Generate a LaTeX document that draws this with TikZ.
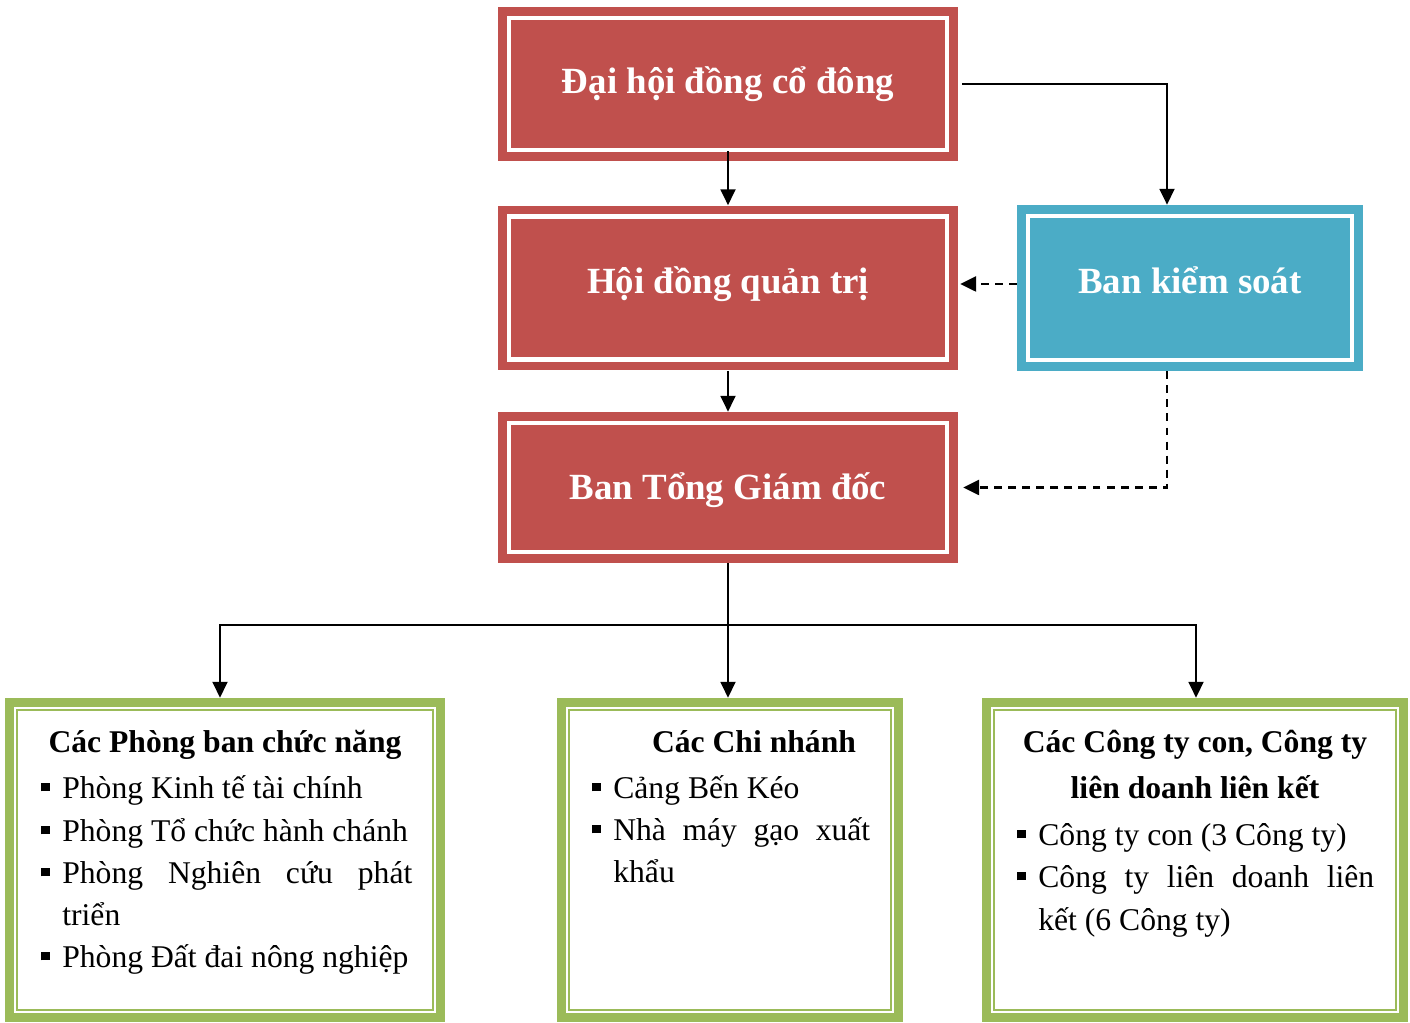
\documentclass[tikz,border=0pt]{standalone}
\usepackage{fontspec}
\setmainfont{Liberation Serif}
\usetikzlibrary{arrows.meta,positioning}

\definecolor{boxred}{HTML}{C0504D}
\definecolor{boxblue}{HTML}{4BACC6}
\definecolor{boxgreen}{HTML}{9BBB59}

% small square bullet, hung 21px before the text
\newcommand{\sqbul}{\makebox[11.95pt][l]{\raisebox{3.8pt}{\rule{4.8pt}{4.8pt}}}}

\begin{document}
\begin{tikzpicture}[x=0.02cm,y=-0.02cm,% one unit = one pixel of the reference
        stripe/.style={path picture={\draw[white,line width=2.4pt]
            ([shift={(0.22cm,0.22cm)}]path picture bounding box.south west) rectangle
            ([shift={(-0.22cm,-0.22cm)}]path picture bounding box.north east);}},
        redbox/.style={fill=boxred,stripe,minimum width=9.2cm,text=white,
            font=\fontsize{21}{25}\selectfont\bfseries,inner sep=0pt,
            text height=15pt,text depth=5pt},
        bluebox/.style={redbox,fill=boxblue,minimum width=6.92cm},
        greenbox/.style={fill=boxgreen,minimum height=6.48cm,inner sep=0pt,
            path picture={\fill[white]
            ([shift={(0.18cm,0.18cm)}]path picture bounding box.south west) rectangle
            ([shift={(-0.18cm,-0.18cm)}]path picture bounding box.north east);
            \draw[boxgreen,line width=1.2pt]
            ([shift={(0.24cm,0.24cm)}]path picture bounding box.south west) rectangle
            ([shift={(-0.24cm,-0.24cm)}]path picture bounding box.north east);}},
        head/.style={anchor=base,inner sep=0pt,font=\fontsize{18}{24}\selectfont\bfseries},
        listline/.style={anchor=base west,inner sep=0pt,font=\fontsize{18}{24}\selectfont},
        conn/.style={line width=1.2pt,-{Triangle[length=9pt,width=8.5pt]}},
        dashconn/.style={conn,line width=1.4pt,dash pattern=on 4.5pt off 3.5pt}]
\useasboundingbox (0,0) rectangle (1410,1023);

% governing boxes
\node[redbox,minimum height=3.08cm,text height=16pt] (dhcd) at (728,84) {Đại hội đồng cổ đông};
\node[redbox,minimum height=3.3cm,text depth=8.4pt] (hdqt) at (728,288) {Hội đồng quản trị};
\node[redbox,minimum height=3.02cm,text height=18.4pt] (btgd) at (728,487.5) {Ban Tổng Giám đốc};
\node[bluebox,minimum height=3.32cm,text depth=9pt] (bks) at (1190,288) {Ban kiểm soát};

% units
\node[greenbox,minimum width=8.8cm] (pb) at (225,860) {};
\node[greenbox,minimum width=6.92cm] (cn) at (730,860) {};
\node[greenbox,minimum width=8.52cm] (ct) at (1195,860) {};

\node[head] (pb-h) at (225,752) {Các Phòng ban chức năng};
\node[head] (cn-h) at (754,752) {Các Chi nhánh};
\node[head] (ct-h1) at (1195,752) {Các Công ty con, Công ty};
\node[head] (ct-h2) at (1195,798) {liên doanh liên kết};

\foreach \px/\py/\txt [count=\i] in {41/798/{\sqbul Phòng Kinh tế tài chính},
        41/841/{\sqbul Phòng Tổ chức hành chánh},
        41/883/{\sqbul\hbox to 199.2pt{Phòng\hfill Nghiên\hfill cứu\hfill phát}},
        62/925/{triển},
        41/967/{\sqbul Phòng Đất đai nông nghiệp}}{
\node[listline] (pb-\i) at (\px,\py) {\txt};
}
\foreach \px/\py/\txt [count=\i] in {592/798/{\sqbul Cảng Bến Kéo},
        592/840/{\sqbul\hbox to 146.2pt{Nhà\hfill máy\hfill gạo\hfill xuất}},
        613/882/{khẩu}}{
\node[listline] (cn-\i) at (\px,\py) {\txt};
}
\foreach \px/\py/\txt [count=\i] in {1017/845/{\sqbul Công ty con (3 Công ty)},
        1017/887/{\sqbul\hbox to 191.2pt{Công\hfill ty\hfill liên\hfill doanh\hfill liên}},
        1038/930/{kết (6 Công ty)}}{
\node[listline] (ct-\i) at (\px,\py) {\txt};
}

% connectors
\draw[conn] ([yshift=0.2cm]dhcd.south) -- (hdqt);
\draw[conn] (hdqt) -- (btgd);
\draw[conn] ([xshift=0.08cm]dhcd.east) -| ([xshift=-0.46cm]bks.north);
\draw[dashconn] ([yshift=0.08cm]bks.west) -- ([xshift=0.04cm,yshift=0.08cm]hdqt.east);
\draw[dashconn] ([xshift=-0.46cm]bks.south) |- ([xshift=0.1cm]btgd.east);

\coordinate (split) at (btgd.south |- 0,625);
\draw[conn] (btgd.south) -- (btgd.south |- cn.north);
\draw[conn] (split) -| ([xshift=-0.1cm]pb.north);
\draw[conn] (split) -| ([xshift=0.02cm]ct.north);
\end{tikzpicture}
\end{document}
